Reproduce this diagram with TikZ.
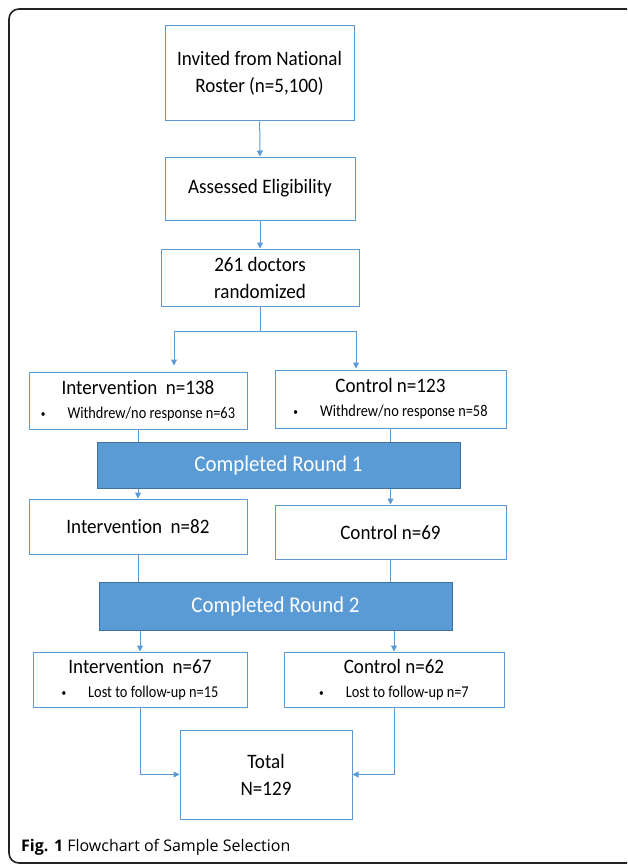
\documentclass[tikz,border=0pt]{standalone}
\usepackage{fontspec}
\setmainfont{Carlito}[Ligatures=NoCommon]
\newfontfamily\boxfont{Carlito}[FakeStretch=0.93,Ligatures=NoCommon]
\newfontfamily\itmfont{Carlito}[FakeStretch=0.87,Ligatures=NoCommon]
\newfontfamily\capfont{Open Sans}
\usetikzlibrary{arrows.meta}
\definecolor{flowblue}{RGB}{91,155,213}
\definecolor{barline} {RGB}{65,113,156}
\definecolor{framegray}{RGB}{35,35,35}
\tikzset{
  blk/.style ={rectangle,draw=flowblue,line width=1pt,fill=white,
                align=center,inner sep=0pt,
                font=\boxfont\fontsize{20.5}{27}\selectfont},
  bar/.style ={rectangle,draw=barline,line width=1pt,fill=flowblue,
                text=white,inner sep=0pt,
                font=\boxfont\fontsize{22.5}{25}\selectfont},
  ln/.style  ={draw=flowblue,line width=1pt},
  sig/.style ={ln,-{Triangle[length=6pt,width=6pt]}},
}
\newcommand{\itm}[1]{{\itmfont\fontsize{16.5}{17}\selectfont
  \raisebox{1pt}{\scalebox{0.65}{\textbullet}}\hspace{22pt}#1}}

\begin{document}
\begin{tikzpicture}[x=1pt,y=-1pt]
  \clip (0,0) rectangle (627,864);
  % outer frame
  \draw[framegray,line width=1.6pt,rounded corners=10pt]
    (700,9) -- (9,9) -- (9,863) -- (700,863);

  \node[blk,minimum width=189,minimum height=95] (inv)  at (259.5,73.5)
    {Invited from National\\Roster (n=5,100)};
  \node[blk,minimum width=190,minimum height=63] (elig) at (260,188.5)
    {Assessed Eligibility};
  \node[blk,minimum width=198,minimum height=57] (rand) at (260,277.5)
    {261 doctors\\randomized};

  \node[blk,minimum width=218,minimum height=57] (int1) at (138,400.5)
    {Intervention\ \ n=138\\[-3pt]\itm{Withdrew/no response n=63}};
  \node[blk,minimum width=231,minimum height=58] (con1) at (390.5,399)
    {Control n=123\\[-3pt]\itm{Withdrew/no response n=58}};

  \node[bar,minimum width=363,minimum height=46] (rnd1) at (278.5,465)
    {Completed Round 1};

  \node[blk,minimum width=218,minimum height=55] (int2) at (138,526.5)
    {Intervention\ \ n=82};
  \node[blk,minimum width=231,minimum height=54] (con2) at (390.5,532)
    {Control n=69};

  \node[bar,minimum width=353,minimum height=48] (rnd2) at (275.5,606)
    {Completed Round 2};

  \node[blk,minimum width=214,minimum height=55] (int3) at (140,679.5)
    {Intervention\ \ n=67\\[-3pt]\itm{Lost to follow-up n=15}};
  \node[blk,minimum width=220,minimum height=55] (con3) at (394,679.5)
    {Control n=62\\[-3pt]\itm{Lost to follow-up n=7}};

  \node[blk,minimum width=172,minimum height=89] (tot)  at (266,774.5)
    {Total\\N=129};

  \node[anchor=west,inner sep=0pt,font=\capfont\fontsize{16}{20}\selectfont]
    (cap) at (21,847) {\textbf{Fig. 1} Flowchart of Sample Selection};

  % split after randomization
  \coordinate (splitl) at (174,331);
  \coordinate (splitr) at (356,331);

  \draw[sig](inv)  -- (elig);
  \draw[sig](elig) -- (rand);
  \draw[ln] (rand.south) -- (rand.south |- splitl);
  \draw[ln] (splitl) -- (splitr);
  \draw[sig](splitl) -- ([yshift=6pt]splitl |- int1.north);
  \draw[sig](splitr) -- ([yshift=1pt]splitr |- con1.north);

  \draw[ln] (int1.south) -- (int1.south |- rnd1.north);
  \draw[ln] (con1.south) -- (con1.south |- rnd1.north);
  \draw[sig](rnd1.south -| int2.north) -- (int2.north);
  \draw[sig](rnd1.south -| con2.north) -- (con2.north);

  \draw[ln] (int2.south) -- (int2.south |- rnd2.north);
  \draw[ln] (con2.south) -- (con2.south |- rnd2.north);
  \draw[sig](rnd2.south -| int3.north) -- (int3.north);
  \draw[sig](rnd2.south -| con3.north) -- (con3.north);

  \draw[sig](int3.south) |- (tot.west);
  \draw[sig](con3.south) |- (tot.east);
\end{tikzpicture}
\end{document}
